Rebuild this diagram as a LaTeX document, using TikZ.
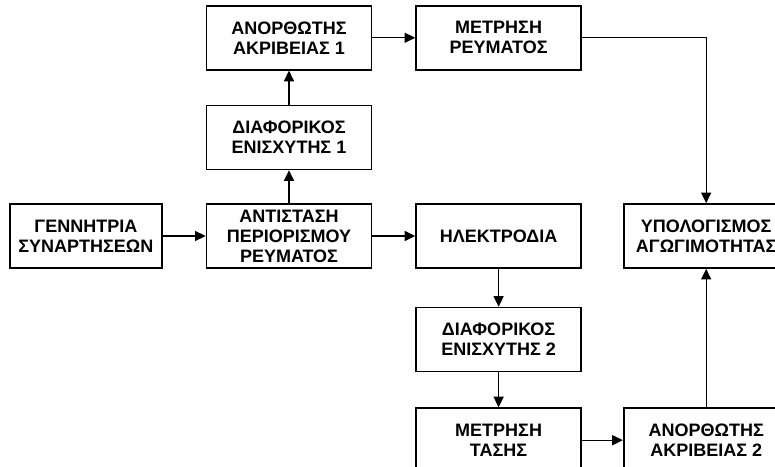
\documentclass[tikz,border=0pt]{standalone}
\usepackage{fontspec}
\setmainfont{Liberation Sans}
\usetikzlibrary{arrows.meta,positioning}

\begin{document}
\begin{tikzpicture}[font=\fontsize{13.5}{15}\selectfont\bfseries]

      \tikzstyle{block}=[rectangle,draw,line width=1.2pt,
        minimum width=123.75pt,minimum height=48pt,
        align=center,inner sep=2pt]
      \tikzstyle{arrow}=[line width=1pt,-{Triangle[length=8pt,width=7.5pt]}]

      \useasboundingbox (-216.75pt,-173.25pt) rectangle (364.5pt,177pt);
      \clip (-216.75pt,-173.25pt) rectangle (364.5pt,177pt);

      \node(Antistasi)[block] at (0,0)
        {ΑΝΤΙΣΤΑΣΗ\\ΠΕΡΙΟΡΙΣΜΟΥ\\ΡΕΥΜΑΤΟΣ};
      \node(Gennitria)[block,minimum width=114pt,
        left=32.25pt of Antistasi]{ΓΕΝΝΗΤΡΙΑ\\ΣΥΝΑΡΤΗΣΕΩΝ};
      \node(Diaforikos1)[block,above=24.75pt of Antistasi]
        {ΔΙΑΦΟΡΙΚΟΣ\\ΕΝΙΣΧΥΤΗΣ 1};
      \node(Anorthotis1)[block,above=25.5pt of Diaforikos1]
        {ΑΝΟΡΘΩΤΗΣ\\ΑΚΡΙΒΕΙΑΣ 1};
      \node(MetrisiR)[block,right=32.25pt of Anorthotis1]
        {ΜΕΤΡΗΣΗ\\ΡΕΥΜΑΤΟΣ};
      \node(Ilektrodia)[block,right=32.25pt of Antistasi]
        {ΗΛΕΚΤΡΟΔΙΑ};
      \node(Diaforikos2)[block,below=28.5pt of Ilektrodia]
        {ΔΙΑΦΟΡΙΚΟΣ\\ΕΝΙΣΧΥΤΗΣ 2};
      \node(MetrisiT)[block,below=26.25pt of Diaforikos2]
        {ΜΕΤΡΗΣΗ\\ΤΑΣΗΣ};
      \node(Anorthotis2)[block,right=30.75pt of MetrisiT]
        {ΑΝΟΡΘΩΤΗΣ\\ΑΚΡΙΒΕΙΑΣ 2};
      \node(Ypologismos)[block,right=30.75pt of Ilektrodia]
        {ΥΠΟΛΟΓΙΣΜΟΣ\\ΑΓΩΓΙΜΟΤΗΤΑΣ};

      \draw [arrow] (Gennitria)--(Antistasi);
      \draw [arrow] (Antistasi)--(Ilektrodia);
      \draw [arrow] (Antistasi)--(Diaforikos1);
      \draw [arrow] (Diaforikos1)--(Anorthotis1);
      \draw [arrow] (Anorthotis1)--(MetrisiR);
      \draw [arrow] (MetrisiR.east)-|(Ypologismos.north);
      \draw [arrow] (Ilektrodia)--(Diaforikos2);
      \draw [arrow] (Diaforikos2)--(MetrisiT);
      \draw [arrow] (MetrisiT)--(Anorthotis2);
      \draw [arrow] (Anorthotis2)--(Ypologismos);

    \end{tikzpicture}
\end{document}
